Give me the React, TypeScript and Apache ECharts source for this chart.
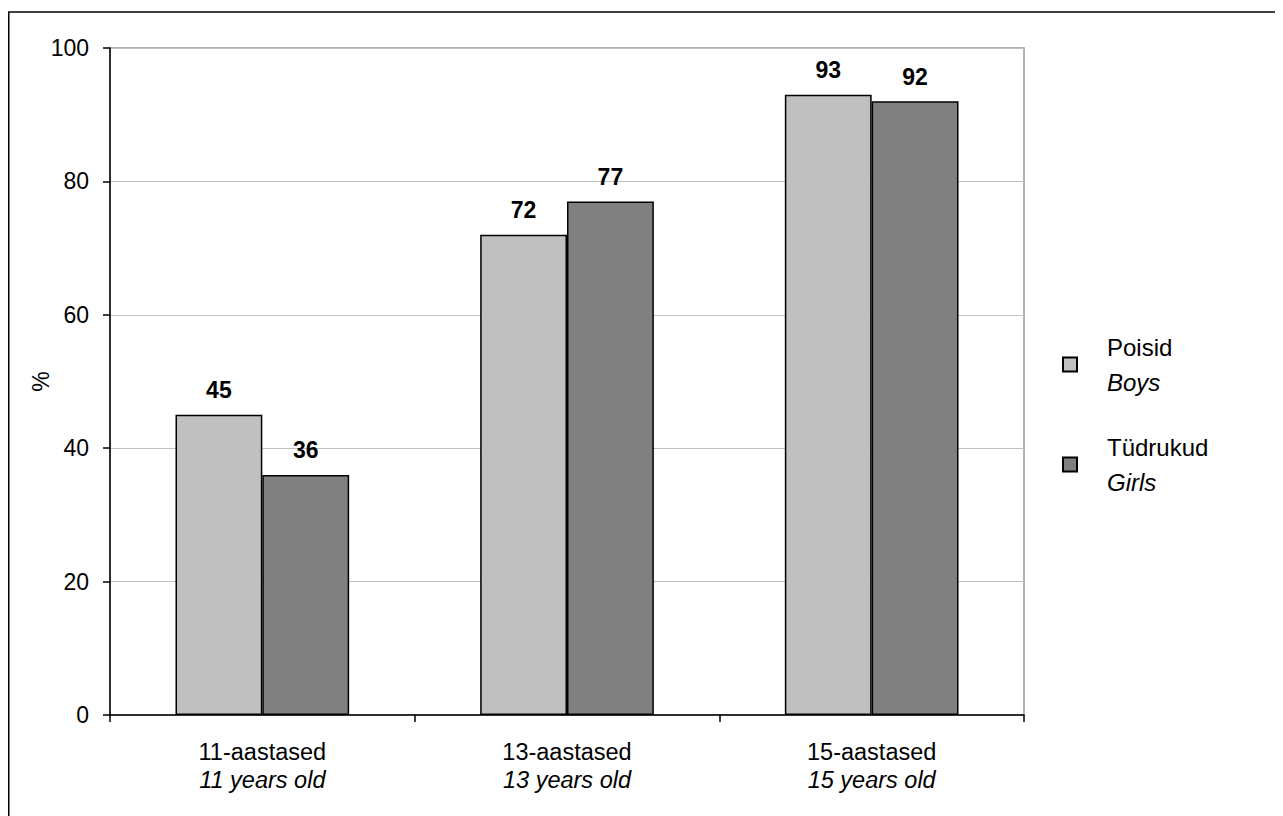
import React, { useEffect, useRef } from "react";
import * as echarts from "echarts";

const categories = ["11-aastased", "13-aastased", "15-aastased"];
const categoriesEn = ["11 years old", "13 years old", "15 years old"];
const boys = [45, 72, 93];
const girls = [36, 77, 92];
const seriesNames = ["Poisid", "Tüdrukud"];
const seriesNamesEn = ["Boys", "Girls"];
const yTicks = { min: 0, max: 100, interval: 20 };

const FONT = "'Liberation Sans', Arial, Helvetica, sans-serif";

export default function App() {
  const ref = useRef<HTMLDivElement>(null);
  useEffect(() => {
    if (!ref.current) return;
    const chart = echarts.init(ref.current, undefined, { renderer: "svg" });
    const enMap: Record<string, string> = {};
    seriesNames.forEach((n, i) => (enMap[n] = seriesNamesEn[i]));
    const catMap: Record<string, string> = {};
    categories.forEach((c, i) => (catMap[c] = categoriesEn[i]));
    const labelStyle = {
      show: true,
      position: "top" as const,
      distance: 13,
      fontFamily: FONT,
      fontSize: 23,
      fontWeight: "bold" as const,
      color: "#000",
      formatter: "{c}",
    };
    chart.setOption({
      animation: false,
      backgroundColor: "#fff",
      textStyle: { fontFamily: FONT },
      graphic: [
        {
          type: "rect",
          shape: { x: 0.75, y: 4, width: 1400, height: 900 },
          style: { fill: "none", stroke: "#000", lineWidth: 1.5 },
          silent: true,
        },
      ],
      grid: {
        left: 102,
        top: 40,
        right: 259,
        bottom: 101,
        show: true,
        borderColor: "#999",
        borderWidth: 1.5,
        backgroundColor: "transparent",
      },
      legend: {
        orient: "vertical",
        left: 1054,
        top: 327,
        padding: 0,
        itemGap: 41,
        itemWidth: 14,
        itemHeight: 14,
        icon: "rect",
        selectedMode: false,
        data: seriesNames,
        formatter: (name: string) => `{a|${name}}\n{b|${enMap[name]}}`,
        textStyle: {
          padding: [0, 0, 0, 25],
          rich: {
            a: { fontFamily: FONT, fontSize: 24, lineHeight: 35, color: "#000" },
            b: { fontFamily: FONT, fontSize: 24, lineHeight: 35, color: "#000", fontStyle: "italic" },
          },
        },
      },
      xAxis: {
        type: "category",
        data: categories,
        axisLine: { show: true, lineStyle: { color: "#000", width: 1.5 } },
        axisTick: { show: true, length: 7, lineStyle: { color: "#000", width: 1.5 } },
        axisLabel: {
          margin: 23,
          formatter: (v: string) => `{a|${v}}\n{b|${catMap[v]}}`,
          rich: {
            a: { fontFamily: FONT, fontSize: 23.5, lineHeight: 28, color: "#000" },
            b: { fontFamily: FONT, fontSize: 23.5, lineHeight: 28, color: "#000", fontStyle: "italic" },
          },
        },
        splitLine: { show: false },
      },
      yAxis: {
        type: "value",
        min: yTicks.min,
        max: yTicks.max,
        interval: yTicks.interval,
        name: "%",
        nameLocation: "middle",
        nameGap: 58,
        nameMoveOverlap: false,
        nameRotate: 90,
        nameTextStyle: { fontFamily: FONT, fontSize: 23, color: "#000" },
        axisLine: { show: true, lineStyle: { color: "#000", width: 1.5 } },
        axisTick: { show: true, length: 7, lineStyle: { color: "#000", width: 1.5 } },
        axisLabel: { margin: 21, fontFamily: FONT, fontSize: 23, color: "#000" },
        splitLine: { show: true, lineStyle: { color: "#c0c0c0", width: 1 } },
      },
      series: [
        {
          name: seriesNames[0],
          type: "bar",
          data: boys,
          barGap: "0%",
          barCategoryGap: "43%",
          itemStyle: { color: "#c0c0c0", borderColor: "#000", borderWidth: 1.5 },
          label: labelStyle,
        },
        {
          name: seriesNames[1],
          type: "bar",
          data: girls,
          barGap: "0%",
          barCategoryGap: "43%",
          itemStyle: { color: "#808080", borderColor: "#000", borderWidth: 1.5 },
          label: labelStyle,
        },
      ],
    });
    return () => chart.dispose();
  }, []);
  return <div ref={ref} style={{ width: 1275, height: 808 }} />;
}
